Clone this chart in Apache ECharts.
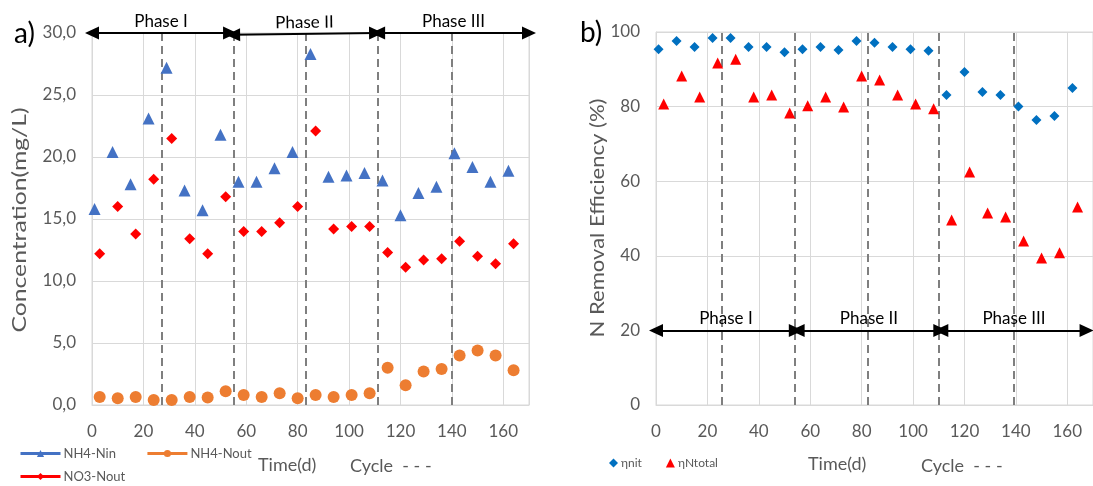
<!DOCTYPE html>
<html>
<head>
<meta charset="utf-8">
<script src="https://cdn.jsdelivr.net/npm/echarts@6/dist/echarts.min.js"></script>
<style>
  html, body { margin: 0; padding: 0; background: #fff; }
  #chart { width: 1093px; height: 486px; }
</style>
</head>
<body>
<div id="chart"></div>
<script>
// Sampling days (influent samples and effluent samples are offset by two days)
const daysIn  = [1, 8, 15, 22, 29, 36, 43, 50, 57, 64, 71, 78, 85, 92, 99, 106, 113, 120, 127, 134, 141, 148, 155, 162];
const daysOut = [3, 10, 17, 24, 31, 38, 45, 52, 59, 66, 73, 80, 87, 94, 101, 108, 115, 122, 129, 136, 143, 150, 157, 164];

// a) Concentrations (mg/L)
const nh4In  = [15.8, 20.4, 17.8, 23.1, 27.2, 17.3, 15.7, 21.8, 18.0, 18.0, 19.1, 20.4, 28.3, 18.4, 18.5, 18.7, 18.1, 15.3, 17.1, 17.6, 20.3, 19.2, 18.0, 18.9];
const nh4Out = [0.65, 0.55, 0.65, 0.4, 0.4, 0.65, 0.6, 1.1, 0.8, 0.65, 0.95, 0.55, 0.8, 0.65, 0.8, 0.95, 3.0, 1.6, 2.7, 2.9, 4.0, 4.4, 4.0, 2.8];
const no3Out = [12.2, 16.0, 13.8, 18.2, 21.5, 13.4, 12.2, 16.8, 14.0, 14.0, 14.7, 16.0, 22.1, 14.2, 14.4, 14.4, 12.3, 11.1, 11.7, 11.8, 13.2, 12.0, 11.4, 13.0];

// b) Removal efficiencies (%)
const etaNit    = [95.4, 97.6, 96.0, 98.4, 98.4, 96.0, 96.0, 94.6, 95.4, 96.0, 95.2, 97.6, 97.1, 96.0, 95.4, 95.0, 83.1, 89.3, 83.9, 83.1, 80.0, 76.4, 77.5, 85.0];
const etaNtotal = [80.7, 88.2, 82.6, 91.7, 92.7, 82.6, 83.1, 78.3, 80.2, 82.6, 79.9, 88.2, 87.1, 83.1, 80.7, 79.4, 49.6, 62.5, 51.5, 50.4, 44.0, 39.4, 40.8, 53.1];

// Cycle boundaries (days) and operating phases [start, end, yStart, yEnd]
const cyclesA = [27, 55, 83, 111, 140];
const cyclesB = [25.5, 54, 82.5, 110, 139];
const phaseNames = ['Phase I', 'Phase II', 'Phase III'];
const phasesA = [[0, 53.7, 30, 30], [54.9, 110.5, 29.85, 30], [111.3, 170, 30, 30]];
const phasesB = [[0, 54.4, 20, 20], [55.1, 110.6, 20, 20], [111, 167.5, 20, 20]];

const xTicks = { min: 0, max: 170, interval: 20 };
const yTicksA = { min: 0, max: 30, interval: 5 };
const yTicksB = { min: 0, max: 100, interval: 20 };

const FONT = 'Lato';
const GRAY = '#595959';
const GRID_LINE = '#d9d9d9';

const pairs = (xs, ys) => xs.map((x, i) => [x, ys[i]]);

// Vertical axis titles are drawn tall and narrow; stretch them along the text direction
const measureCtx = document.createElement('canvas').getContext('2d');
function stretchedTitle(text, cx, cy, length, size) {
  measureCtx.font = size + 'px ' + FONT;
  const w = measureCtx.measureText(text).width;
  return {
    type: 'text', x: cx, y: cy, rotation: Math.PI / 2, scaleX: length / w, scaleY: 1,
    style: { text, fill: GRAY, font: size + 'px ' + FONT, align: 'center', verticalAlign: 'middle' }
  };
}

function cycleLines(days) {
  return {
    silent: true,
    symbol: 'none',
    label: { show: false },
    lineStyle: { color: '#7f7f7f', type: [8, 5], width: 2 },
    data: days.map(d => ({ xAxis: d }))
  };
}

function phaseArrows(phases) {
  return {
    silent: true,
    symbol: ['triangle', 'triangle'],
    symbolSize: [13, 14],
    lineStyle: { color: '#000', type: 'solid', width: 2 },
    itemStyle: { color: '#000' },
    label: {
      show: true, position: 'middle', color: '#000',
      fontFamily: FONT, fontSize: 17, distance: 3
    },
    data: phases.map((p, i) => [
      { coord: [p[0], p[2]], name: phaseNames[i] },
      { coord: [p[1], p[3]] }
    ])
  };
}

function xAxis(gridIndex) {
  return {
    type: 'value', gridIndex, ...xTicks,
    axisLine: { show: true, lineStyle: { color: GRID_LINE, width: 1 } },
    axisTick: { show: false },
    axisLabel: { color: GRAY, fontFamily: FONT, fontSize: 17, margin: 18, showMaxLabel: false },
    splitLine: { show: true, lineStyle: { color: GRID_LINE, width: 1 } }
  };
}

function yAxis(gridIndex, ticks, fmt) {
  return {
    type: 'value', gridIndex, ...ticks,
    axisLine: { show: true, lineStyle: { color: GRID_LINE, width: 1 } },
    axisTick: { show: false },
    axisLabel: { color: GRAY, fontFamily: FONT, fontSize: 17, margin: 16, formatter: fmt },
    splitLine: { show: true, lineStyle: { color: GRID_LINE, width: 1 } }
  };
}

// Point-only "line" series so the legend shows a line with its marker
function pointSeries(name, xs, ys, color, symbol, size) {
  return {
    name, type: 'line', xAxisIndex: 0, yAxisIndex: 0,
    data: pairs(xs, ys),
    symbol, symbolSize: size, showSymbol: true,
    itemStyle: { color, opacity: 1 },
    lineStyle: { color, opacity: 0 },
    z: 5
  };
}

const chart = echarts.init(document.getElementById('chart'), null, { renderer: 'canvas' });

chart.setOption({
  animation: false,
  backgroundColor: '#fff',
  textStyle: { fontFamily: FONT },
  grid: [
    { left: 92, top: 33, width: 437, height: 372, show: true, borderColor: GRID_LINE, borderWidth: 1 },
    { left: 656, top: 32, width: 447, height: 373, show: true, borderColor: GRID_LINE, borderWidth: 1 }
  ],
  xAxis: [xAxis(0), xAxis(1)],
  yAxis: [
    yAxis(0, yTicksA, v => v.toFixed(1).replace('.', ',')),
    yAxis(1, yTicksB, v => String(v))
  ],
  legend: [
    {
      data: ['NH4-Nin', 'NH4-Nout'], left: 14, top: 442, orient: 'horizontal',
      itemWidth: 40, itemHeight: 9, itemGap: 30,
      lineStyle: { opacity: 1, width: 3 },
      textStyle: { color: GRAY, fontFamily: FONT, fontSize: 13, padding: [0, 0, 0, -2] }
    },
    {
      data: ['NO3-Nout'], left: 14, top: 465,
      itemWidth: 40, itemHeight: 9,
      lineStyle: { opacity: 1, width: 3 },
      textStyle: { color: GRAY, fontFamily: FONT, fontSize: 13, padding: [0, 0, 0, -2] }
    },
    {
      data: ['ηnit', 'ηNtotal'], left: 604, top: 452,
      itemWidth: 9, itemHeight: 9, itemGap: 24,
      textStyle: { color: GRAY, fontFamily: FONT, fontSize: 12, padding: [0, 0, 0, -2] }
    }
  ],
  graphic: [
    { type: 'text', left: 14, top: 20, style: { text: 'a)', fill: '#000', font: '28px Lato' } },
    { type: 'text', left: 580, top: 19, style: { text: 'b)', fill: '#000', font: '28px Lato' } },
    stretchedTitle('Concentration(mg/L)', 20, 220, 225, 19),
    stretchedTitle('N Removal Efficiency (%)', 598, 218, 239, 19),
    { type: 'text', left: 258, top: 456, style: { text: 'Time(d)', fill: GRAY, font: '18px Lato' } },
    { type: 'text', left: 350, top: 457, style: { text: 'Cycle  - - -', fill: GRAY, font: '18px Lato' } },
    { type: 'text', left: 808, top: 455, style: { text: 'Time(d)', fill: GRAY, font: '18px Lato' } },
    { type: 'text', left: 921, top: 457, style: { text: 'Cycle  - - -', fill: GRAY, font: '18px Lato' } }
  ],
  series: [
    // a) guides
    {
      type: 'line', xAxisIndex: 0, yAxisIndex: 0, data: [], z: 2,
      markLine: cycleLines(cyclesA)
    },
    {
      type: 'line', xAxisIndex: 0, yAxisIndex: 0, data: [], z: 6,
      markLine: phaseArrows(phasesA)
    },
    pointSeries('NH4-Nin', daysIn, nh4In, '#4472C4', 'triangle', 12),
    pointSeries('NH4-Nout', daysOut, nh4Out, '#ED7D31', 'circle', 12),
    pointSeries('NO3-Nout', daysOut, no3Out, '#FF0000', 'diamond', 11),
    // b) guides
    {
      type: 'line', xAxisIndex: 1, yAxisIndex: 1, data: [], z: 2,
      markLine: cycleLines(cyclesB)
    },
    {
      type: 'line', xAxisIndex: 1, yAxisIndex: 1, data: [], z: 6,
      markLine: phaseArrows(phasesB)
    },
    {
      name: 'ηnit', type: 'scatter', xAxisIndex: 1, yAxisIndex: 1,
      data: pairs(daysIn, etaNit), symbol: 'diamond', symbolSize: 10,
      itemStyle: { color: '#0070C0', opacity: 1 }, z: 5
    },
    {
      name: 'ηNtotal', type: 'scatter', xAxisIndex: 1, yAxisIndex: 1,
      data: pairs(daysOut, etaNtotal), symbol: 'triangle', symbolSize: 11,
      itemStyle: { color: '#FF0000', opacity: 1 }, z: 5
    }
  ]
});
</script>
</body>
</html>
